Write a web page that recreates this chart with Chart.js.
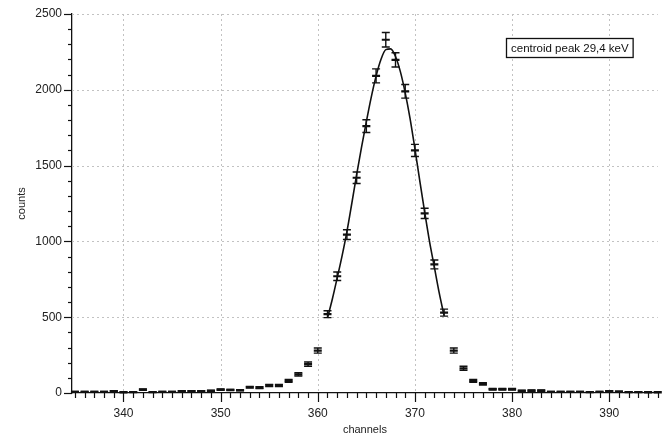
<!DOCTYPE html>
<html><head><meta charset="utf-8">
<script src="https://cdn.jsdelivr.net/npm/chart.js@4/dist/chart.umd.min.js"></script>
<style>html,body{margin:0;padding:0;background:#fff;}#wrap{width:664px;height:437px;}</style>
</head><body><div id="wrap"><canvas id="c" width="664" height="437"></canvas></div>
<script>
// ---- data ----
const channels = [335,336,337,338,339,340,341,342,343,344,345,346,347,348,349,350,351,352,353,354,355,356,357,358,359,360,361,362,363,364,365,366,367,368,369,370,371,372,373,374,375,376,377,378,379,380,381,382,383,384,385,386,387,388,389,390,391,392,393,394,395];
const counts = [8,8,8,8,12,5,6,22,6,8,8,12,12,12,15,22,20,18,38,36,50,50,80,123,190,280,520,770,1045,1420,1760,2092,2330,2197,1990,1600,1185,848,530,280,163,80,60,25,25,25,15,16,16,8,8,8,7,6,7,12,9,6,6,5,5];
const errors = [3,3,3,3,3,3,3,5,3,3,3,3,3,3,4,4,4,4,6,6,7,7,9,11,14,17,23,28,32,38,42,46,48,47,45,40,34,29,23,17,13,9,8,5,5,5,4,4,4,3,3,3,3,3,3,3,3,3,3,3,3];
const fitChannels = [361,361.5,362,362.5,363,363.5,364,364.5,365,365.5,366,366.5,367,367.5,368,368.5,369,369.5,370,370.5,371,371.5,372,372.5,373];
const fitCounts = [495,620,760,905,1065,1250,1440,1620,1790,1950,2090,2200,2265,2270,2220,2120,1980,1810,1610,1400,1195,1000,830,660,510];
const xTickLabels = [340,350,360,370,380,390];
const yTickLabels = [0,500,1000,1500,2000,2500];
const annotationText = 'centroid peak 29,4 keV';
const xTitle = 'channels';
const yTitle = 'counts';

const FONT = '"Liberation Sans", Arial, sans-serif';

const pointsData = channels.map((c, i) => ({x: c, y: counts[i]}));
const fitData = fitChannels.map((c, i) => ({x: c, y: fitCounts[i]}));

const decor = {
  id: 'decor',
  beforeDatasetsDraw(chart) {
    const {ctx, chartArea, scales: {x, y}} = chart;
    ctx.save();
    ctx.strokeStyle = '#c2c2c2';
    ctx.lineWidth = 1;
    ctx.setLineDash([2, 3]);
    xTickLabels.forEach(v => {
      const px = Math.round(x.getPixelForValue(v)) + 0.5;
      ctx.beginPath(); ctx.moveTo(px, chartArea.top); ctx.lineTo(px, chartArea.bottom); ctx.stroke();
    });
    yTickLabels.forEach(v => {
      if (v === 0) return;
      const py = Math.round(y.getPixelForValue(v)) + 0.5;
      ctx.beginPath(); ctx.moveTo(chartArea.left, py); ctx.lineTo(chartArea.right, py); ctx.stroke();
    });
    ctx.restore();
  },
  afterDatasetsDraw(chart) {
    const {ctx, chartArea, scales: {x, y}} = chart;
    ctx.save();
    ctx.strokeStyle = '#111';
    ctx.lineWidth = 1.4;
    channels.forEach((c, i) => {
      const px = x.getPixelForValue(c);
      if (px < chartArea.left - 5 || px > chartArea.right + 5) return;
      const top = y.getPixelForValue(counts[i] + errors[i]);
      const bot = y.getPixelForValue(counts[i] - errors[i]);
      ctx.beginPath();
      ctx.moveTo(px, top); ctx.lineTo(px, bot);
      ctx.moveTo(px - 4, top); ctx.lineTo(px + 4, top);
      ctx.moveTo(px - 4, bot); ctx.lineTo(px + 4, bot);
      ctx.stroke();
    });
    ctx.restore();
  },
  afterDraw(chart) {
    const {ctx, chartArea, scales: {x, y}} = chart;
    ctx.save();
    ctx.strokeStyle = '#111';
    ctx.lineWidth = 1.2;
    for (let v = Math.ceil(x.min); v <= x.max; v++) {
      const px = Math.round(x.getPixelForValue(v)) + 0.5;
      const len = (v % 10 === 0) ? 9 : 5;
      ctx.beginPath(); ctx.moveTo(px, chartArea.bottom); ctx.lineTo(px, chartArea.bottom + len); ctx.stroke();
    }
    for (let v = 0; v <= y.max; v += 100) {
      const py = Math.round(y.getPixelForValue(v)) + 0.5;
      const len = (v % 500 === 0) ? 8 : 4;
      ctx.beginPath(); ctx.moveTo(chartArea.left, py); ctx.lineTo(chartArea.left - len, py); ctx.stroke();
    }
    ctx.font = '11.5px ' + FONT;
    const tw = ctx.measureText(annotationText).width;
    const bx = 506, by = 38, bw = tw + 9, bh = 19;
    ctx.fillStyle = '#fff';
    ctx.fillRect(bx, by, bw, bh);
    ctx.lineWidth = 1.3;
    ctx.strokeStyle = '#111';
    ctx.strokeRect(bx + 0.5, by + 0.5, bw, bh);
    ctx.fillStyle = '#111';
    ctx.textBaseline = 'middle';
    ctx.textAlign = 'left';
    ctx.fillText(annotationText, bx + 5, by + bh / 2 + 1);
    ctx.restore();
  }
};

new Chart(document.getElementById('c'), {
  type: 'scatter',
  data: {
    datasets: [
      {
        label: 'fit',
        data: fitData,
        showLine: true,
        borderColor: '#111',
        borderWidth: 1.6,
        pointRadius: 0,
        cubicInterpolationMode: 'monotone',
        fill: false
      },
      {
        label: 'counts',
        data: pointsData,
        showLine: false,
        pointStyle: 'line',
        pointRadius: 4,
        borderColor: '#111',
        borderWidth: 2.2,
        backgroundColor: '#111'
      }
    ]
  },
  options: {
    responsive: false,
    animation: false,
    layout: {padding: {top: 14, right: 0, bottom: 0, left: 0}},
    plugins: {legend: {display: false}, tooltip: {enabled: false}},
    scales: {
      x: {
        type: 'linear',
        min: 334.7,
        max: 395,
        grid: {display: false, drawTicks: false},
        border: {display: true, color: '#111', width: 1.3},
        afterBuildTicks: axis => { axis.ticks = xTickLabels.map(v => ({value: v})); },
        afterFit: axis => { axis.height = 44; axis.paddingLeft = 0; axis.paddingRight = 0; },
        ticks: {
          padding: 13,
          color: '#222',
          font: {family: FONT, size: 12},
          maxRotation: 0,
          autoSkip: false,
          callback: v => String(v)
        },
        title: {
          display: true,
          text: xTitle,
          color: '#222',
          font: {family: FONT, size: 11},
          padding: {top: 0, bottom: 0}
        }
      },
      y: {
        type: 'linear',
        min: 0,
        max: 2500,
        grid: {display: false, drawTicks: false},
        border: {display: true, color: '#111', width: 1.3},
        afterBuildTicks: axis => { axis.ticks = yTickLabels.map(v => ({value: v})); },
        afterFit: axis => { axis.width = 72; axis.paddingTop = 0; axis.paddingBottom = 0; },
        ticks: {
          padding: 10,
          color: '#222',
          font: {family: FONT, size: 12},
          autoSkip: false,
          callback: v => String(v)
        },
        title: {
          display: true,
          text: yTitle,
          color: '#222',
          font: {family: FONT, size: 11},
          padding: {top: 15, bottom: 0}
        }
      }
    }
  },
  plugins: [decor]
});
</script>
</body></html>
